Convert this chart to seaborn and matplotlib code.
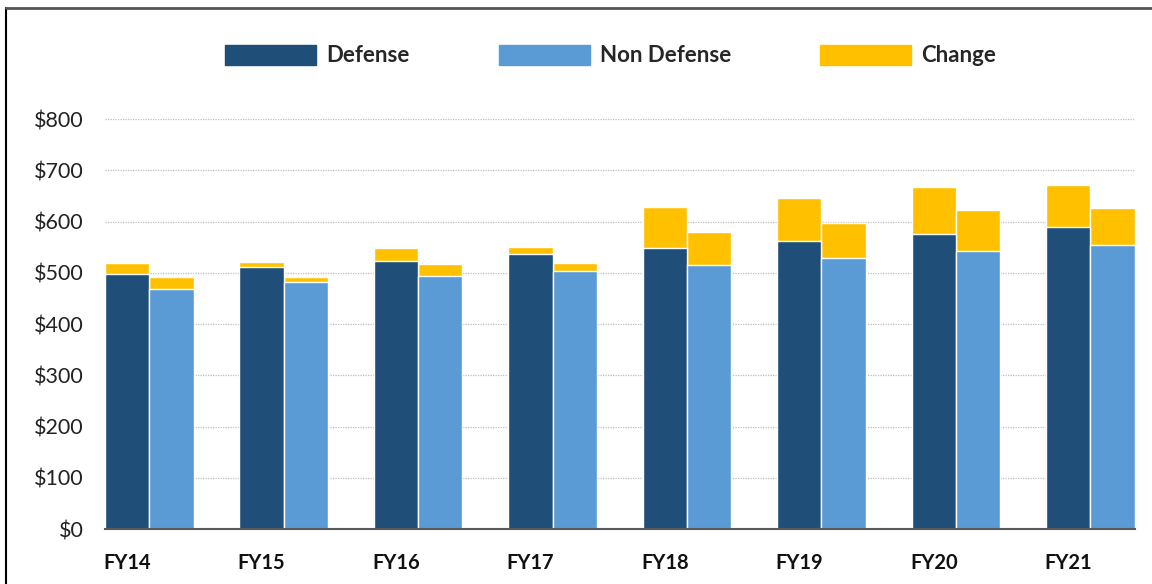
import pandas as pd
import matplotlib.pyplot as plt
import seaborn as sns
from matplotlib.patches import Patch
from matplotlib.lines import Line2D

# Datos
years = ['FY14', 'FY15', 'FY16', 'FY17', 'FY18', 'FY19', 'FY20', 'FY21']
defense = [498, 512, 523, 536, 549, 562, 576, 590]
non_defense = [469, 483, 493, 504, 516, 530, 543, 555]
defense_total = [520, 521, 548, 551, 629, 647, 667, 672]
non_defense_total = [491, 492, 518, 518.5, 579, 597, 622, 627]

base = pd.DataFrame({
    'year': years * 2,
    'tipo': ['Defense'] * 8 + ['Non Defense'] * 8,
    'valor': defense + non_defense,
})
total = pd.DataFrame({
    'year': years * 2,
    'tipo': ['Defense'] * 8 + ['Non Defense'] * 8,
    'valor': defense_total + non_defense_total,
})

c_def = '#1F4E79'
c_non = '#5B9BD5'
c_chg = '#FFC000'

sns.set_style('white')
plt.rcParams['font.family'] = ['Lato', 'DejaVu Sans']

fig = plt.figure(figsize=(11.52, 5.84), dpi=100)
ax = fig.add_axes([0.091, 0.094, 0.894, 0.702])

# Totales (parte "Change") primero, luego la base encima
sns.barplot(data=total, x='year', y='valor', hue='tipo', palette=[c_chg, c_chg], saturation=1,
            width=0.66, edgecolor='white', linewidth=1, legend=False, ax=ax, zorder=2)
sns.barplot(data=base, x='year', y='valor', hue='tipo', palette=[c_def, c_non], saturation=1,
            width=0.66, edgecolor='white', linewidth=1, legend=False, ax=ax, zorder=3)

ax.set_xlim(-0.33, 7.33)
ax.set_ylim(0, 800)
ax.set_yticks(range(0, 801, 100))
ax.set_yticklabels([f'${v}' for v in range(0, 801, 100)], fontsize=15.5, color='#222222')
ax.set_xticks([i - 0.165 for i in range(8)])
ax.set_xticklabels(years, fontsize=14.5, fontweight='bold', color='#111111')
ax.tick_params(axis='y', length=0, pad=15)
ax.tick_params(axis='x', length=0, pad=17)
ax.set_xlabel('')
ax.set_ylabel('')

ax.yaxis.grid(True, linestyle=(0, (1, 1)), color='#BFBFBF', linewidth=0.9)
ax.set_axisbelow(True)
for s in ['top', 'right', 'left']:
    ax.spines[s].set_visible(False)
ax.spines['bottom'].set_color('#595959')
ax.spines['bottom'].set_linewidth(1.5)
ax.spines['bottom'].set_zorder(5)

handles = [Patch(color=c_def, label='Defense'),
           Patch(color=c_non, label='Non Defense'),
           Patch(color=c_chg, label='Change')]
leg = fig.legend(handles=handles, loc='center', bbox_to_anchor=(0.53, 0.905), ncol=3,
                 frameon=False, handlelength=4.1, handleheight=1.05, handletextpad=0.45,
                 columnspacing=4.0, prop={'size': 16, 'weight': 'bold'})

# Marco de la figura
fig.add_artist(Line2D([6 / 1152, 6 / 1152], [0, 1 - 8 / 584], transform=fig.transFigure,
                      color='black', linewidth=1.5))
fig.add_artist(Line2D([6 / 1152, 1], [1 - 8 / 584, 1 - 8 / 584], transform=fig.transFigure,
                      color='#555555', linewidth=2))

fig.savefig('out.png', dpi=100)
